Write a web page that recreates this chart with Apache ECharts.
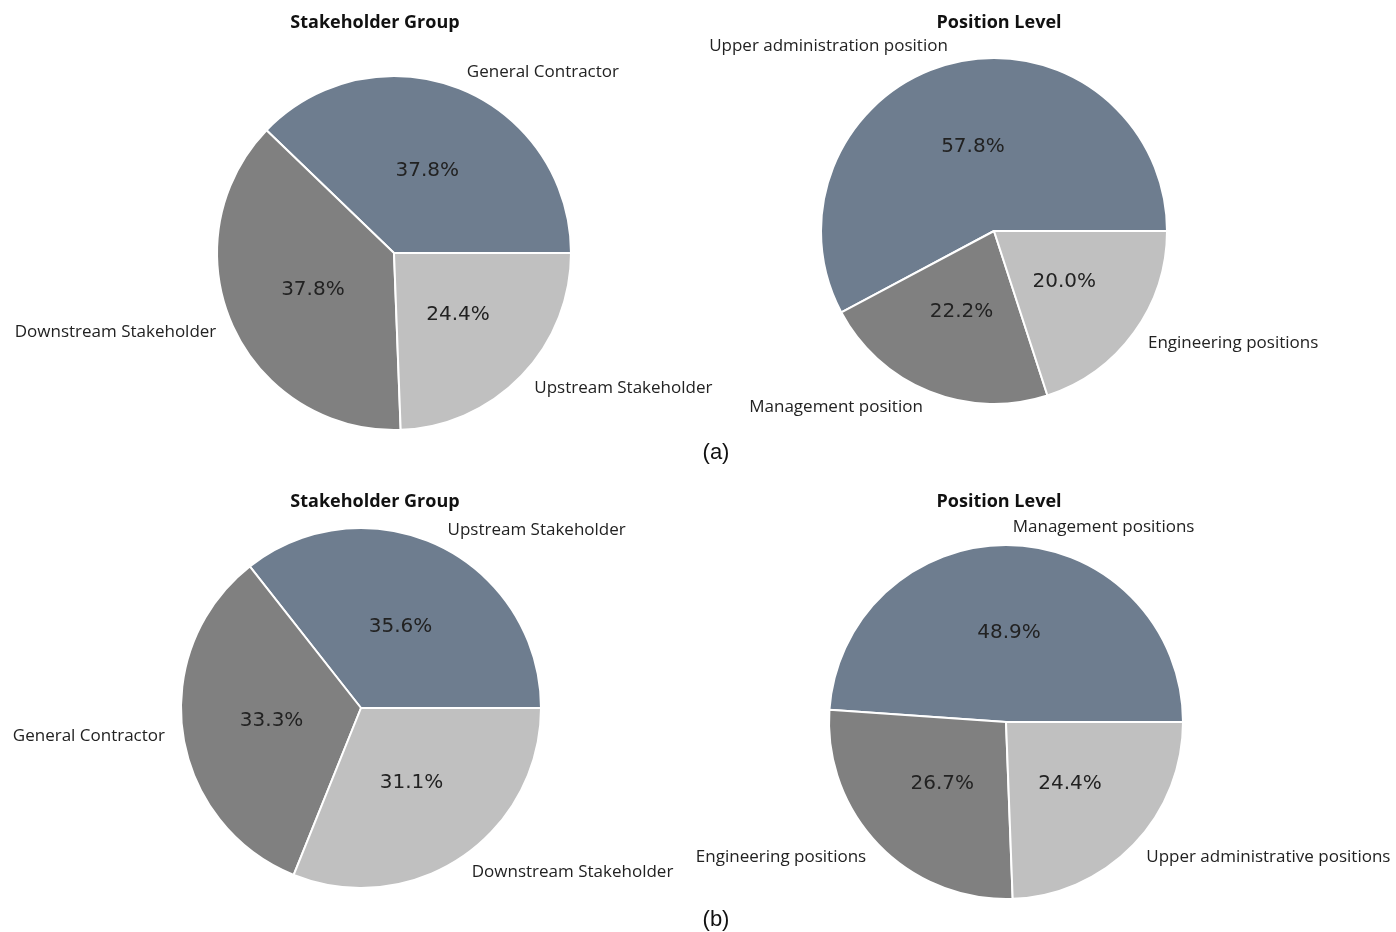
<!DOCTYPE html>
<html><head><meta charset="utf-8">
<script src="https://cdn.jsdelivr.net/npm/echarts@6/dist/echarts.min.js"></script>
<style>html,body{margin:0;padding:0;background:#fff}#c{width:1396px;height:932px}</style>
</head><body><div id="c"></div>
<script>
const titleA1 = 'Stakeholder Group';
const namesA1 = ['General Contractor', 'Downstream Stakeholder', 'Upstream Stakeholder'];
const valuesA1 = [37.8, 37.8, 24.4];
const titleA2 = 'Position Level';
const namesA2 = ['Upper administration position', 'Management position', 'Engineering positions'];
const valuesA2 = [57.8, 22.2, 20.0];
const titleB1 = 'Stakeholder Group';
const namesB1 = ['Upstream Stakeholder', 'General Contractor', 'Downstream Stakeholder'];
const valuesB1 = [35.6, 33.3, 31.1];
const titleB2 = 'Position Level';
const namesB2 = ['Management positions', 'Engineering positions', 'Upper administrative positions'];
const valuesB2 = [48.9, 26.7, 24.4];
const captions = ['(a)', '(b)'];

const colors = ['#6e7d8f', '#808080', '#c0c0c0'];
const FONT = '"Open Sans", "Noto Sans", sans-serif';
const PFONT = '"DejaVu Sans", sans-serif';

function pies(names, values, cx, cy, r) {
  const data = names.map((n, i) => ({name: n, value: values[i], itemStyle: {color: colors[i]}}));
  const base = {
    type: 'pie', center: [cx, cy], startAngle: 0, clockwise: false,
    avoidLabelOverlap: false, animation: false, silent: true
  };
  return [
    Object.assign({}, base, {
      radius: [0, r],
      data: data,
      itemStyle: {borderColor: '#fff', borderWidth: 2},
      label: {show: true, position: 'outside', formatter: '{b}', fontFamily: FONT, fontSize: 17,
        color: '#222', distanceToLabelLine: 0},
      labelLine: {show: false, length: r * 0.1, length2: 0}
    }),
    Object.assign({}, base, {
      radius: [0, r * 0.97],
      data: names.map((n, i) => ({name: n, value: values[i]})),
      itemStyle: {color: 'rgba(0,0,0,0)', borderWidth: 0},
      label: {show: true, position: 'inside', formatter: p => p.value.toFixed(1) + '%',
        fontFamily: PFONT, fontSize: 20, color: '#222'},
      labelLine: {show: false}
    })
  ];
}

function txt(text, x, y, font, size, weight) {
  return {type: 'text', x: x, y: y, silent: true,
    style: {text: text, fontFamily: font, fontSize: size, fontWeight: weight, fill: '#111',
      align: 'center', verticalAlign: 'middle'}};
}

const chart = echarts.init(document.getElementById('c'));
const CAPFONT = '"Liberation Sans", Arial, sans-serif';
chart.setOption({
  backgroundColor: '#fff',
  graphic: [
    txt(titleA1, 375, 23, FONT, 18, 'bold'),
    txt(titleA2, 999, 23, FONT, 18, 'bold'),
    txt(titleB1, 375, 502, FONT, 18, 'bold'),
    txt(titleB2, 999, 502, FONT, 18, 'bold'),
    txt(captions[0], 716, 453, CAPFONT, 22, 'normal'),
    txt(captions[1], 716, 920, CAPFONT, 22, 'normal')
  ],
  series: [].concat(
    pies(namesA1, valuesA1, 394, 253, 177),
    pies(namesA2, valuesA2, 994, 231, 173),
    pies(namesB1, valuesB1, 361, 708, 180),
    pies(namesB2, valuesB2, 1006, 722, 177)
  )
});
</script></body></html>
